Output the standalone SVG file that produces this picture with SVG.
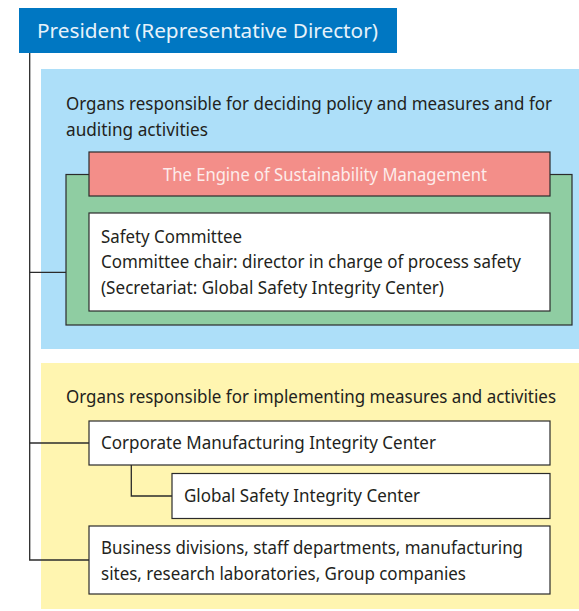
<svg xmlns="http://www.w3.org/2000/svg" width="579" height="611" viewBox="0 0 579 611">
  <style>
    .t { font-family: "Noto Sans", "Open Sans", "DejaVu Sans", sans-serif; font-size: 18px; fill: #231f20; }
    .h { font-size: 17.5px; }
    .box { fill: #ffffff; stroke: #2b2b2b; stroke-width: 1.2; }
    .line { fill: none; stroke: #2b2b2b; stroke-width: 1.3; }
  </style>
  <rect width="579" height="611" fill="#ffffff"/>

  <!-- top node -->
  <g id="president">
    <rect x="19" y="8" width="378" height="45" fill="#0077c2"/>
    <text x="37" y="38" class="t" style="font-size:19.5px;fill:#e6f2fa" textLength="341" lengthAdjust="spacingAndGlyphs">President (Representative Director)</text>
  </g>

  <!-- policy / auditing area -->
  <g id="policy-area">
    <rect x="41" y="69" width="538" height="280" fill="#addff9"/>
    <text x="66" y="110" class="t h" textLength="486" lengthAdjust="spacingAndGlyphs">Organs responsible for deciding policy and measures and for</text>
    <text x="66" y="136" class="t h" textLength="142" lengthAdjust="spacingAndGlyphs">auditing activities</text>
  </g>

  <g id="safety-committee">
    <rect x="66" y="174.5" width="506" height="150.5" fill="#8fcda2" stroke="#2b2b2b" stroke-width="1.2"/>
    <rect x="89" y="152" width="461" height="44" fill="#f38e89" stroke="#2b2b2b" stroke-width="1.2"/>
    <text x="163" y="181" class="t" style="fill:#fdeceb" textLength="324" lengthAdjust="spacingAndGlyphs">The Engine of Sustainability Management</text>
    <rect x="89" y="213" width="461" height="98" class="box"/>
    <text x="101" y="243" class="t" textLength="141" lengthAdjust="spacingAndGlyphs">Safety Committee</text>
    <text x="101" y="268" class="t" textLength="420" lengthAdjust="spacingAndGlyphs">Committee chair: director in charge of process safety</text>
    <text x="101" y="294" class="t" textLength="343" lengthAdjust="spacingAndGlyphs">(Secretariat: Global Safety Integrity Center)</text>
  </g>

  <!-- implementation area -->
  <g id="implementation-area">
    <rect x="41" y="363" width="538" height="246" fill="#fff5b0"/>
    <text x="66" y="403" class="t h" textLength="490" lengthAdjust="spacingAndGlyphs">Organs responsible for implementing measures and activities</text>
  </g>

  <g id="manufacturing-center">
    <rect x="89" y="421" width="461" height="44" class="box"/>
    <text x="101" y="449" class="t" textLength="335" lengthAdjust="spacingAndGlyphs">Corporate Manufacturing Integrity Center</text>
  </g>

  <g id="global-safety-center">
    <rect x="172" y="473.5" width="378" height="45" class="box"/>
    <text x="184" y="502" class="t" textLength="236" lengthAdjust="spacingAndGlyphs">Global Safety Integrity Center</text>
  </g>

  <g id="business-divisions">
    <rect x="89" y="526" width="461" height="68" class="box"/>
    <text x="101" y="554" class="t" textLength="422" lengthAdjust="spacingAndGlyphs">Business divisions, staff departments, manufacturing</text>
    <text x="101" y="580" class="t" textLength="365" lengthAdjust="spacingAndGlyphs">sites, research laboratories, Group companies</text>
  </g>

  <!-- connectors -->
  <g id="connectors">
    <path class="line" d="M29.7 53 V560 H89"/>
    <path class="line" d="M29.7 272.3 H66"/>
    <path class="line" d="M29.7 443 H89"/>
    <path class="line" d="M131.3 465 V496 H172"/>
  </g>
</svg>
